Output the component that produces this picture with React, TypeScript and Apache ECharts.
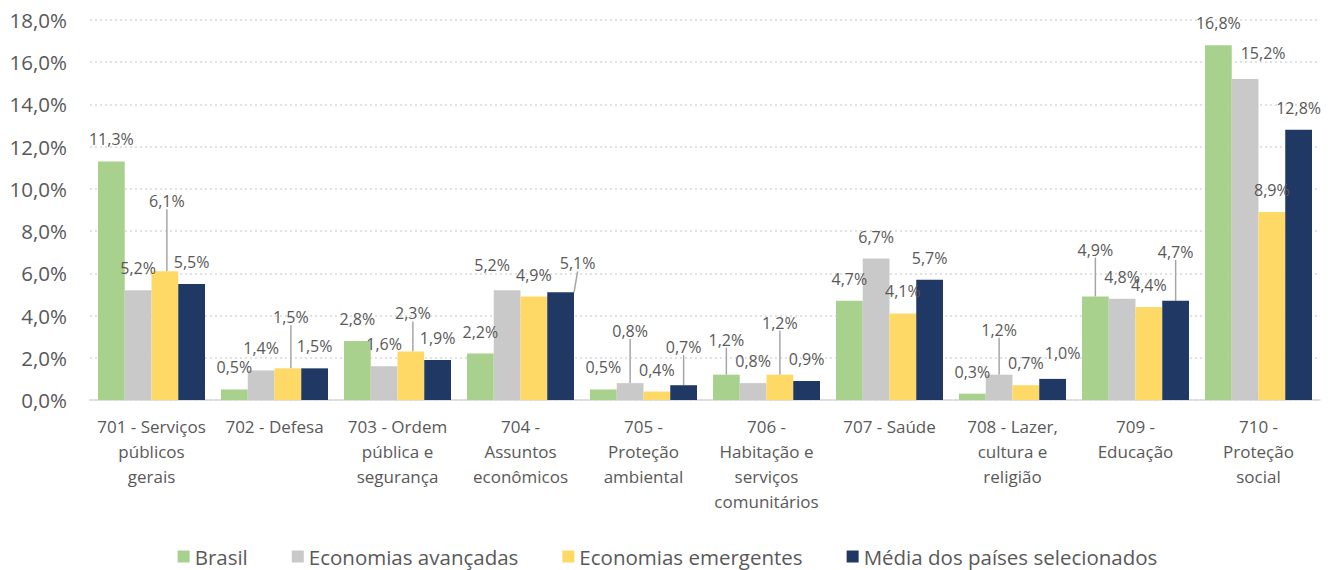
import React, { useEffect, useRef } from "react";
import * as echarts from "echarts";

const CATEGORIES = [
  "701 - Serviços\npúblicos\ngerais",
  "702 - Defesa",
  "703 - Ordem\npública e\nsegurança",
  "704 -\nAssuntos\neconômicos",
  "705 -\nProteção\nambiental",
  "706 -\nHabitação e\nserviços\ncomunitários",
  "707 - Saúde",
  "708 - Lazer,\ncultura e\nreligião",
  "709 -\nEducação",
  "710 -\nProteção\nsocial",
];

const SERIES_NAMES = [
  "Brasil",
  "Economias avançadas",
  "Economias emergentes",
  "Média dos países selecionados",
];

const BRASIL = [11.3, 0.5, 2.8, 2.2, 0.5, 1.2, 4.7, 0.3, 4.9, 16.8];
const AVANCADAS = [5.2, 1.4, 1.6, 5.2, 0.8, 0.8, 6.7, 1.2, 4.8, 15.2];
const EMERGENTES = [6.1, 1.5, 2.3, 4.9, 0.4, 1.2, 4.1, 0.7, 4.4, 8.9];
const MEDIA = [5.5, 1.5, 1.9, 5.1, 0.7, 0.9, 5.7, 1.0, 4.7, 12.8];

const Y_MIN = 0;
const Y_MAX = 18;
const Y_INTERVAL = 2;

const COLORS = ["#A9D18E", "#C9C9C9", "#FFD966", "#203864"];

// label nudges (dx, dy) keyed "series-index:category-index"
const LABEL_NUDGE: Record<string, [number, number]> = {
  "0:5": [0, -13],
  "0:8": [0, -25],
  "1:3": [-15, -3],
  "1:4": [0, -30],
  "1:7": [0, -23],
  "1:9": [18, -4],
  "2:0": [2, -48],
  "2:1": [3, -29],
  "2:2": [2, -16],
  "2:5": [0, -30],
  "3:3": [17, -7],
  "3:4": [0, -16],
  "3:7": [10, -4],
  "3:8": [0, -27],
};
const LEADER = new Set([
  "2:0", "2:1", "2:2", "1:4", "3:4", "0:5", "2:5", "1:7", "0:8", "3:8", "3:3",
]);

const FONT = "'Open Sans', 'Noto Sans', sans-serif";
const TEXT = "#595959";

function fmt(v: number, digits = 1) {
  return v.toFixed(digits).replace(".", ",") + "%";
}

export default function App() {
  const ref = useRef<HTMLDivElement>(null);
  useEffect(() => {
    document.body.style.margin = "0";
    const chart = echarts.init(ref.current!, null, { renderer: "svg" });
    const all = [BRASIL, AVANCADAS, EMERGENTES, MEDIA];
    chart.setOption({
      animation: false,
      textStyle: { fontFamily: FONT },
      grid: { left: 90, right: 15, top: 20, bottom: 170 },
      legend: {
        top: 541,
        left: "center",
        itemWidth: 12,
        itemHeight: 12,
        itemGap: 44,
        icon: "rect",
        textStyle: { color: TEXT, fontSize: 20.5, fontFamily: FONT },
        data: SERIES_NAMES,
      },
      xAxis: {
        type: "category",
        data: CATEGORIES,
        axisLine: { lineStyle: { color: "#D9D9D9", width: 1.5 } },
        axisTick: { show: false },
        axisLabel: {
          interval: 0,
          color: TEXT,
          fontSize: 17,
          lineHeight: 25,
          margin: 14,
          fontFamily: FONT,
        },
      },
      yAxis: {
        type: "value",
        min: Y_MIN,
        max: Y_MAX,
        interval: Y_INTERVAL,
        axisLabel: {
          color: TEXT,
          fontSize: 20.5,
          margin: 23,
          fontFamily: FONT,
          formatter: (v: number) => fmt(v),
        },
        splitLine: {
          lineStyle: { color: "#D9D9D9", type: [2, 3], width: 1.5 },
        },
      },
      series: all.map((vals, si) => ({
        name: SERIES_NAMES[si],
        type: "bar",
        barGap: "0%",
        barCategoryGap: "13%",
        itemStyle: { color: COLORS[si] },
        label: {
          show: true,
          position: "top",
          distance: 14,
          color: TEXT,
          fontSize: 16,
          fontFamily: FONT,
          formatter: (p: any) => fmt(p.value),
        },
        labelLine: { show: false },
        labelLayout: (p: any) => {
          const n = LABEL_NUDGE[`${si}:${p.dataIndex}`];
          return n ? { dx: n[0], dy: n[1] } : {};
        },
        data: vals.map((v, ci) => {
          const key = `${si}:${ci}`;
          return LEADER.has(key)
            ? {
                value: v,
                labelLine: {
                  show: true,
                  lineStyle: { color: "#A6A6A6", width: 1.5 },
                },
              }
            : v;
        }),
      })),
    });
    return () => chart.dispose();
  }, []);
  return <div ref={ref} style={{ width: 1335, height: 570 }} />;
}
